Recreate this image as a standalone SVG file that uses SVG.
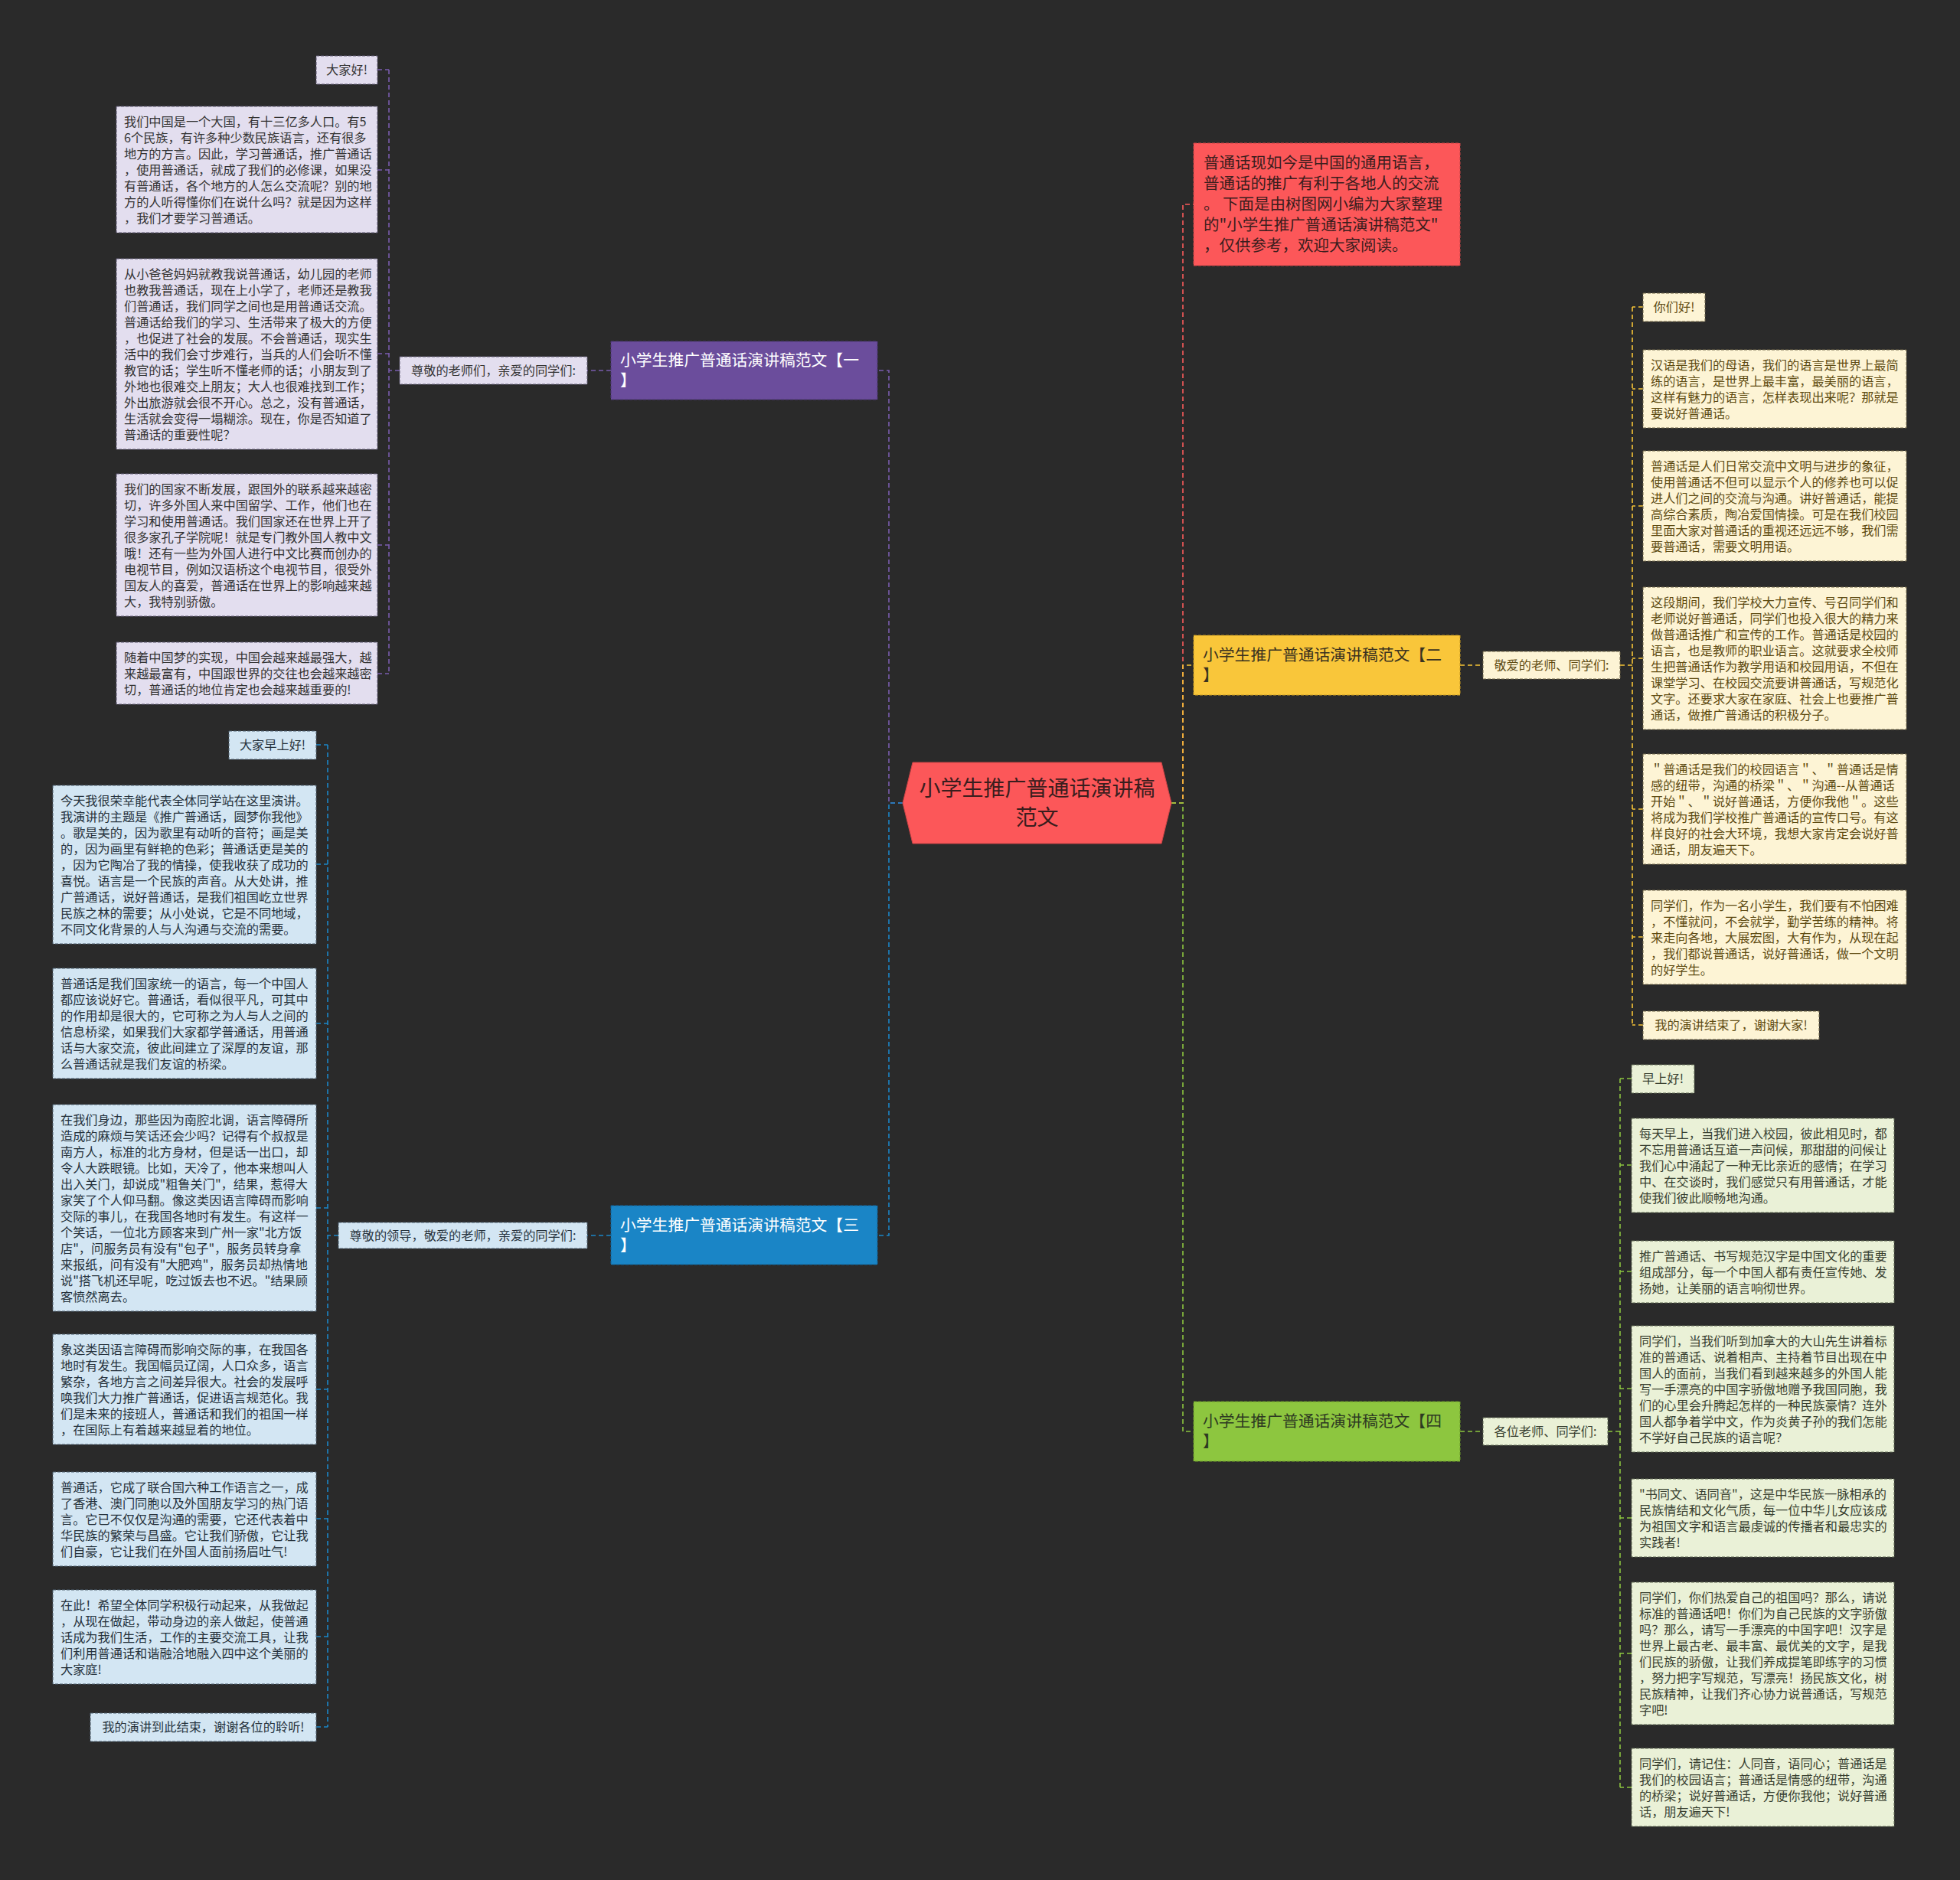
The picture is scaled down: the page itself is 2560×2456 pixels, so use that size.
<svg xmlns="http://www.w3.org/2000/svg" width="2560" height="2456" viewBox="0 0 2560 2456">
<style>
text{font-family:"Noto Sans CJK SC","Noto Sans",sans-serif;}
.p{font-size:16.2px;}
.c{fill:none;stroke-width:1.6;stroke-dasharray:6 4;}
.b1b{fill:#e3deef;stroke:#5e5873;stroke-width:1;stroke-dasharray:4 2;}
.b3b{fill:#d3e6f3;stroke:#4c5f6e;stroke-width:1;stroke-dasharray:4 2;}
.b2b{fill:#fdf4d5;stroke:#6e6446;stroke-width:1;stroke-dasharray:4 2;}
.b4b{fill:#eaf1d7;stroke:#5d6650;stroke-width:1;stroke-dasharray:4 2;}
.t1{fill:#333333;} .t3{fill:#26323c;} .t2{fill:#5e4b12;} .t4{fill:#383f30;}
.nt{font-size:20.8px;}
.mid{text-anchor:middle;}
</style>
<rect width="2560" height="2456" fill="#2a2a2a"/>

<g id="connectors">
  <path class="c" stroke="#fb5a5a" d="M1530,1049 H1545 V267 H1559"/>
  <path class="c" stroke="#f8c537" d="M1530,1049 H1545 V869 H1559"/>
  <path class="c" stroke="#8cc53f" d="M1530,1049 H1545 V1870 H1559"/>
  <path class="c" stroke="#7a5cae" d="M1179,1049 H1161 V484 H1146"/>
  <path class="c" stroke="#1b86c7" d="M1179,1049 H1161 V1614 H1146"/>
  <path class="c" stroke="#7a5cae" d="M798,484 H767 M522,484 H508 M508,91 V880 M493,91 H508 M493,222 H508 M493,462 H508 M493,712 H508 M493,880 H508"/>
  <path class="c" stroke="#1b86c7" d="M798,1614 H767 M442,1614 H428 M428,973 V2256 M413,973 H428 M413,1129 H428 M413,1337 H428 M413,1578 H428 M413,1815 H428 M413,1984 H428 M413,2138 H428 M413,2256 H428"/>
  <path class="c" stroke="#f8c537" d="M1907,869 H1937 M2116,869 H2132 M2132,401 V1339 M2146,401 H2132 M2146,508 H2132 M2146,661 H2132 M2146,860 H2132 M2146,1057 H2132 M2146,1224 H2132 M2146,1339 H2132"/>
  <path class="c" stroke="#8cc53f" d="M1907,1870 H1937 M2100,1870 H2116 M2116,1409 V2335 M2131,1409 H2116 M2131,1522 H2116 M2131,1661 H2116 M2131,1814 H2116 M2131,1983 H2116 M2131,2160 H2116 M2131,2335 H2116"/>
</g>

<g id="center">
  <polygon points="1179,1049 1192,996 1517,996 1530,1049 1517,1102 1192,1102" fill="#fc5759" stroke="#c94446" stroke-width="1"/>
  <text x="1354.5" y="1040" class="mid" font-size="28" fill="#3a1d1d">小学生推广普通话演讲稿</text>
  <text x="1354.5" y="1078" class="mid" font-size="28" fill="#3a1d1d">范文</text>
</g>

<g id="intro">
  <rect x="1559" y="187" width="348" height="160" fill="#fc5759" stroke="#c94446" stroke-width="1" stroke-dasharray="4 2"/>
  <text x="1572" y="220" font-size="20.5" fill="#3a1d1d"><tspan x="1572">普通话现如今是中国的通用语言，</tspan><tspan x="1572" dy="27">普通话的推广有利于各地人的交流</tspan><tspan x="1572" dy="27">。 下面是由树图网小编为大家整理</tspan><tspan x="1572" dy="27">的"小学生推广普通话演讲稿范文"</tspan><tspan x="1572" dy="27">，仅供参考，欢迎大家阅读。</tspan></text>
</g>

<!-- Branch 1 -->
<g id="branch1">
  <rect x="798" y="446" width="348" height="76" fill="#6b4d9c" stroke="#4e3878" stroke-dasharray="4 2"/>
  <text class="nt" fill="#ffffff"><tspan x="810" y="478">小学生推广普通话演讲稿范文【一</tspan><tspan x="810" y="504">】</tspan></text>
</g>
<g id="b1-label">
  <rect class="b1b" x="522" y="466" width="245" height="36"/>
  <text class="p t1 mid" x="644.5" y="489.5">尊敬的老师们，亲爱的同学们:</text>
</g>
<g id="b1-c0">
  <rect class="b1b" x="413" y="73" width="80" height="37"/>
  <text class="p t1 mid" x="453" y="97">大家好!</text>
</g>
<g id="b1-c1">
  <rect class="b1b" x="152" y="139" width="341" height="165"/>
  <text class="p t1" y="165"><tspan x="162">我们中国是一个大国，有十三亿多人口。有5</tspan><tspan x="162" dy="21">6个民族，有许多种少数民族语言，还有很多</tspan><tspan x="162" dy="21">地方的方言。因此，学习普通话，推广普通话</tspan><tspan x="162" dy="21">，使用普通话，就成了我们的必修课，如果没</tspan><tspan x="162" dy="21">有普通话，各个地方的人怎么交流呢？别的地</tspan><tspan x="162" dy="21">方的人听得懂你们在说什么吗？就是因为这样</tspan><tspan x="162" dy="21">，我们才要学习普通话。</tspan></text>
</g>
<g id="b1-c2">
  <rect class="b1b" x="152" y="338" width="341" height="249"/>
  <text class="p t1" y="364"><tspan x="162">从小爸爸妈妈就教我说普通话，幼儿园的老师</tspan><tspan x="162" dy="21">也教我普通话，现在上小学了，老师还是教我</tspan><tspan x="162" dy="21">们普通话，我们同学之间也是用普通话交流。</tspan><tspan x="162" dy="21">普通话给我们的学习、生活带来了极大的方便</tspan><tspan x="162" dy="21">，也促进了社会的发展。不会普通话，现实生</tspan><tspan x="162" dy="21">活中的我们会寸步难行，当兵的人们会听不懂</tspan><tspan x="162" dy="21">教官的话；学生听不懂老师的话；小朋友到了</tspan><tspan x="162" dy="21">外地也很难交上朋友；大人也很难找到工作；</tspan><tspan x="162" dy="21">外出旅游就会很不开心。总之，没有普通话，</tspan><tspan x="162" dy="21">生活就会变得一塌糊涂。现在，你是否知道了</tspan><tspan x="162" dy="21">普通话的重要性呢？</tspan></text>
</g>
<g id="b1-c3">
  <rect class="b1b" x="152" y="619" width="341" height="186"/>
  <text class="p t1" y="645"><tspan x="162">我们的国家不断发展，跟国外的联系越来越密</tspan><tspan x="162" dy="21">切，许多外国人来中国留学、工作，他们也在</tspan><tspan x="162" dy="21">学习和使用普通话。我们国家还在世界上开了</tspan><tspan x="162" dy="21">很多家孔子学院呢！就是专门教外国人教中文</tspan><tspan x="162" dy="21">哦！还有一些为外国人进行中文比赛而创办的</tspan><tspan x="162" dy="21">电视节目，例如汉语桥这个电视节目，很受外</tspan><tspan x="162" dy="21">国友人的喜爱，普通话在世界上的影响越来越</tspan><tspan x="162" dy="21">大，我特别骄傲。</tspan></text>
</g>
<g id="b1-c4">
  <rect class="b1b" x="152" y="839" width="341" height="81"/>
  <text class="p t1" y="865"><tspan x="162">随着中国梦的实现，中国会越来越最强大，越</tspan><tspan x="162" dy="21">来越最富有，中国跟世界的交往也会越来越密</tspan><tspan x="162" dy="21">切，普通话的地位肯定也会越来越重要的!</tspan></text>
</g>

<!-- Branch 3 -->
<g id="branch3">
  <rect x="798" y="1575" width="348" height="77" fill="#1a85c6" stroke="#10659c" stroke-dasharray="4 2"/>
  <text class="nt" fill="#ffffff"><tspan x="810" y="1608">小学生推广普通话演讲稿范文【三</tspan><tspan x="810" y="1634">】</tspan></text>
</g>
<g id="b3-label">
  <rect class="b3b" x="442" y="1597" width="325" height="34"/>
  <text class="p t3 mid" x="604.5" y="1619.5">尊敬的领导，敬爱的老师，亲爱的同学们:</text>
</g>
<g id="b3-c0">
  <rect class="b3b" x="299" y="955" width="114" height="37"/>
  <text class="p t3 mid" x="356" y="979">大家早上好!</text>
</g>
<g id="b3-c1">
  <rect class="b3b" x="69" y="1026" width="344" height="207"/>
  <text class="p t3" y="1052"><tspan x="79">今天我很荣幸能代表全体同学站在这里演讲。</tspan><tspan x="79" dy="21">我演讲的主题是《推广普通话，圆梦你我他》</tspan><tspan x="79" dy="21">。歌是美的，因为歌里有动听的音符；画是美</tspan><tspan x="79" dy="21">的，因为画里有鲜艳的色彩；普通话更是美的</tspan><tspan x="79" dy="21">，因为它陶冶了我的情操，使我收获了成功的</tspan><tspan x="79" dy="21">喜悦。语言是一个民族的声音。从大处讲，推</tspan><tspan x="79" dy="21">广普通话，说好普通话，是我们祖国屹立世界</tspan><tspan x="79" dy="21">民族之林的需要；从小处说，它是不同地域，</tspan><tspan x="79" dy="21">不同文化背景的人与人沟通与交流的需要。</tspan></text>
</g>
<g id="b3-c2">
  <rect class="b3b" x="69" y="1265" width="344" height="144"/>
  <text class="p t3" y="1291"><tspan x="79">普通话是我们国家统一的语言，每一个中国人</tspan><tspan x="79" dy="21">都应该说好它。普通话，看似很平凡，可其中</tspan><tspan x="79" dy="21">的作用却是很大的，它可称之为人与人之间的</tspan><tspan x="79" dy="21">信息桥梁，如果我们大家都学普通话，用普通</tspan><tspan x="79" dy="21">话与大家交流，彼此间建立了深厚的友谊，那</tspan><tspan x="79" dy="21">么普通话就是我们友谊的桥梁。</tspan></text>
</g>
<g id="b3-c3">
  <rect class="b3b" x="69" y="1443" width="344" height="270"/>
  <text class="p t3" y="1469"><tspan x="79">在我们身边，那些因为南腔北调，语言障碍所</tspan><tspan x="79" dy="21">造成的麻烦与笑话还会少吗？记得有个叔叔是</tspan><tspan x="79" dy="21">南方人，标准的北方身材，但是话一出口，却</tspan><tspan x="79" dy="21">令人大跌眼镜。比如，天冷了，他本来想叫人</tspan><tspan x="79" dy="21">出入关门，却说成"粗鲁关门"，结果，惹得大</tspan><tspan x="79" dy="21">家笑了个人仰马翻。像这类因语言障碍而影响</tspan><tspan x="79" dy="21">交际的事儿，在我国各地时有发生。有这样一</tspan><tspan x="79" dy="21">个笑话，一位北方顾客来到广州一家"北方饭</tspan><tspan x="79" dy="21">店"，问服务员有没有"包子"，服务员转身拿</tspan><tspan x="79" dy="21">来报纸，问有没有"大肥鸡"，服务员却热情地</tspan><tspan x="79" dy="21">说"搭飞机还早呢，吃过饭去也不迟。"结果顾</tspan><tspan x="79" dy="21">客愤然离去。</tspan></text>
</g>
<g id="b3-c4">
  <rect class="b3b" x="69" y="1743" width="344" height="144"/>
  <text class="p t3" y="1769"><tspan x="79">象这类因语言障碍而影响交际的事，在我国各</tspan><tspan x="79" dy="21">地时有发生。我国幅员辽阔，人口众多，语言</tspan><tspan x="79" dy="21">繁杂，各地方言之间差异很大。社会的发展呼</tspan><tspan x="79" dy="21">唤我们大力推广普通话，促进语言规范化。我</tspan><tspan x="79" dy="21">们是未来的接班人，普通话和我们的祖国一样</tspan><tspan x="79" dy="21">，在国际上有着越来越显着的地位。</tspan></text>
</g>
<g id="b3-c5">
  <rect class="b3b" x="69" y="1923" width="344" height="123"/>
  <text class="p t3" y="1949"><tspan x="79">普通话，它成了联合国六种工作语言之一，成</tspan><tspan x="79" dy="21">了香港、澳门同胞以及外国朋友学习的热门语</tspan><tspan x="79" dy="21">言。它已不仅仅是沟通的需要，它还代表着中</tspan><tspan x="79" dy="21">华民族的繁荣与昌盛。它让我们骄傲，它让我</tspan><tspan x="79" dy="21">们自豪，它让我们在外国人面前扬眉吐气!</tspan></text>
</g>
<g id="b3-c6">
  <rect class="b3b" x="69" y="2077" width="344" height="123"/>
  <text class="p t3" y="2103"><tspan x="79">在此！希望全体同学积极行动起来，从我做起</tspan><tspan x="79" dy="21">，从现在做起，带动身边的亲人做起，使普通</tspan><tspan x="79" dy="21">话成为我们生活，工作的主要交流工具，让我</tspan><tspan x="79" dy="21">们利用普通话和谐融洽地融入四中这个美丽的</tspan><tspan x="79" dy="21">大家庭!</tspan></text>
</g>
<g id="b3-c7">
  <rect class="b3b" x="118" y="2238" width="295" height="37"/>
  <text class="p t3 mid" x="265.5" y="2262">我的演讲到此结束，谢谢各位的聆听!</text>
</g>

<!-- Branch 2 -->
<g id="branch2">
  <rect x="1559" y="830" width="348" height="78" fill="#f9c63a" stroke="#c89a20" stroke-dasharray="4 2"/>
  <text class="nt" fill="#3a3220"><tspan x="1571" y="863">小学生推广普通话演讲稿范文【二</tspan><tspan x="1571" y="889">】</tspan></text>
</g>
<g id="b2-label">
  <rect class="b2b" x="1937" y="851" width="179" height="36"/>
  <text class="p t2 mid" x="2026.5" y="874.5">敬爱的老师、同学们:</text>
</g>
<g id="b2-c0">
  <rect class="b2b" x="2146" y="383" width="81" height="37"/>
  <text class="p t2 mid" x="2186.5" y="407">你们好!</text>
</g>
<g id="b2-c1">
  <rect class="b2b" x="2146" y="457" width="344" height="102"/>
  <text class="p t2" y="483"><tspan x="2156">汉语是我们的母语，我们的语言是世界上最简</tspan><tspan x="2156" dy="21">练的语言，是世界上最丰富，最美丽的语言，</tspan><tspan x="2156" dy="21">这样有魅力的语言，怎样表现出来呢？那就是</tspan><tspan x="2156" dy="21">要说好普通话。</tspan></text>
</g>
<g id="b2-c2">
  <rect class="b2b" x="2146" y="589" width="344" height="144"/>
  <text class="p t2" y="615"><tspan x="2156">普通话是人们日常交流中文明与进步的象征，</tspan><tspan x="2156" dy="21">使用普通话不但可以显示个人的修养也可以促</tspan><tspan x="2156" dy="21">进人们之间的交流与沟通。讲好普通话，能提</tspan><tspan x="2156" dy="21">高综合素质，陶冶爱国情操。可是在我们校园</tspan><tspan x="2156" dy="21">里面大家对普通话的重视还远远不够，我们需</tspan><tspan x="2156" dy="21">要普通话，需要文明用语。</tspan></text>
</g>
<g id="b2-c3">
  <rect class="b2b" x="2146" y="767" width="344" height="186"/>
  <text class="p t2" y="793"><tspan x="2156">这段期间，我们学校大力宣传、号召同学们和</tspan><tspan x="2156" dy="21">老师说好普通话，同学们也投入很大的精力来</tspan><tspan x="2156" dy="21">做普通话推广和宣传的工作。普通话是校园的</tspan><tspan x="2156" dy="21">语言，也是教师的职业语言。这就要求全校师</tspan><tspan x="2156" dy="21">生把普通话作为教学用语和校园用语，不但在</tspan><tspan x="2156" dy="21">课堂学习、在校园交流要讲普通话，写规范化</tspan><tspan x="2156" dy="21">文字。还要求大家在家庭、社会上也要推广普</tspan><tspan x="2156" dy="21">通话，做推广普通话的积极分子。</tspan></text>
</g>
<g id="b2-c4">
  <rect class="b2b" x="2146" y="985" width="344" height="144"/>
  <text class="p t2" y="1011"><tspan x="2156">＂普通话是我们的校园语言＂、＂普通话是情</tspan><tspan x="2156" dy="21">感的纽带，沟通的桥梁＂、＂沟通--从普通话</tspan><tspan x="2156" dy="21">开始＂、＂说好普通话，方便你我他＂。这些</tspan><tspan x="2156" dy="21">将成为我们学校推广普通话的宣传口号。有这</tspan><tspan x="2156" dy="21">样良好的社会大环境，我想大家肯定会说好普</tspan><tspan x="2156" dy="21">通话，朋友遍天下。</tspan></text>
</g>
<g id="b2-c5">
  <rect class="b2b" x="2146" y="1163" width="344" height="123"/>
  <text class="p t2" y="1189"><tspan x="2156">同学们，作为一名小学生，我们要有不怕困难</tspan><tspan x="2156" dy="21">，不懂就问，不会就学，勤学苦练的精神。将</tspan><tspan x="2156" dy="21">来走向各地，大展宏图，大有作为，从现在起</tspan><tspan x="2156" dy="21">，我们都说普通话，说好普通话，做一个文明</tspan><tspan x="2156" dy="21">的好学生。</tspan></text>
</g>
<g id="b2-c6">
  <rect class="b2b" x="2146" y="1321" width="230" height="37"/>
  <text class="p t2 mid" x="2261" y="1345">我的演讲结束了，谢谢大家!</text>
</g>

<!-- Branch 4 -->
<g id="branch4">
  <rect x="1559" y="1831" width="348" height="78" fill="#8dc63f" stroke="#6a9a28" stroke-dasharray="4 2"/>
  <text class="nt" fill="#2e3a22"><tspan x="1571" y="1864">小学生推广普通话演讲稿范文【四</tspan><tspan x="1571" y="1890">】</tspan></text>
</g>
<g id="b4-label">
  <rect class="b4b" x="1937" y="1852" width="163" height="36"/>
  <text class="p t4 mid" x="2018.5" y="1875.5">各位老师、同学们:</text>
</g>
<g id="b4-c0">
  <rect class="b4b" x="2131" y="1391" width="82" height="37"/>
  <text class="p t4 mid" x="2172" y="1415">早上好!</text>
</g>
<g id="b4-c1">
  <rect class="b4b" x="2131" y="1461" width="343" height="123"/>
  <text class="p t4" y="1487"><tspan x="2141">每天早上，当我们进入校园，彼此相见时，都</tspan><tspan x="2141" dy="21">不忘用普通话互道一声问候，那甜甜的问候让</tspan><tspan x="2141" dy="21">我们心中涌起了一种无比亲近的感情；在学习</tspan><tspan x="2141" dy="21">中、在交谈时，我们感觉只有用普通话，才能</tspan><tspan x="2141" dy="21">使我们彼此顺畅地沟通。</tspan></text>
</g>
<g id="b4-c2">
  <rect class="b4b" x="2131" y="1621" width="343" height="81"/>
  <text class="p t4" y="1647"><tspan x="2141">推广普通话、书写规范汉字是中国文化的重要</tspan><tspan x="2141" dy="21">组成部分，每一个中国人都有责任宣传她、发</tspan><tspan x="2141" dy="21">扬她，让美丽的语言响彻世界。</tspan></text>
</g>
<g id="b4-c3">
  <rect class="b4b" x="2131" y="1732" width="343" height="165"/>
  <text class="p t4" y="1758"><tspan x="2141">同学们，当我们听到加拿大的大山先生讲着标</tspan><tspan x="2141" dy="21">准的普通话、说着相声、主持着节目出现在中</tspan><tspan x="2141" dy="21">国人的面前，当我们看到越来越多的外国人能</tspan><tspan x="2141" dy="21">写一手漂亮的中国字骄傲地赠予我国同胞，我</tspan><tspan x="2141" dy="21">们的心里会升腾起怎样的一种民族豪情？连外</tspan><tspan x="2141" dy="21">国人都争着学中文，作为炎黄子孙的我们怎能</tspan><tspan x="2141" dy="21">不学好自己民族的语言呢？</tspan></text>
</g>
<g id="b4-c4">
  <rect class="b4b" x="2131" y="1932" width="343" height="102"/>
  <text class="p t4" y="1958"><tspan x="2141">"书同文、语同音"，这是中华民族一脉相承的</tspan><tspan x="2141" dy="21">民族情结和文化气质，每一位中华儿女应该成</tspan><tspan x="2141" dy="21">为祖国文字和语言最虔诚的传播者和最忠实的</tspan><tspan x="2141" dy="21">实践者!</tspan></text>
</g>
<g id="b4-c5">
  <rect class="b4b" x="2131" y="2067" width="343" height="186"/>
  <text class="p t4" y="2093"><tspan x="2141">同学们，你们热爱自己的祖国吗？那么，请说</tspan><tspan x="2141" dy="21">标准的普通话吧！你们为自己民族的文字骄傲</tspan><tspan x="2141" dy="21">吗？那么，请写一手漂亮的中国字吧！汉字是</tspan><tspan x="2141" dy="21">世界上最古老、最丰富、最优美的文字，是我</tspan><tspan x="2141" dy="21">们民族的骄傲，让我们养成提笔即练字的习惯</tspan><tspan x="2141" dy="21">，努力把字写规范，写漂亮！扬民族文化，树</tspan><tspan x="2141" dy="21">民族精神，让我们齐心协力说普通话，写规范</tspan><tspan x="2141" dy="21">字吧!</tspan></text>
</g>
<g id="b4-c6">
  <rect class="b4b" x="2131" y="2284" width="343" height="102"/>
  <text class="p t4" y="2310"><tspan x="2141">同学们，请记住：人同音，语同心；普通话是</tspan><tspan x="2141" dy="21">我们的校园语言；普通话是情感的纽带，沟通</tspan><tspan x="2141" dy="21">的桥梁；说好普通话，方便你我他；说好普通</tspan><tspan x="2141" dy="21">话，朋友遍天下!</tspan></text>
</g>
</svg>
